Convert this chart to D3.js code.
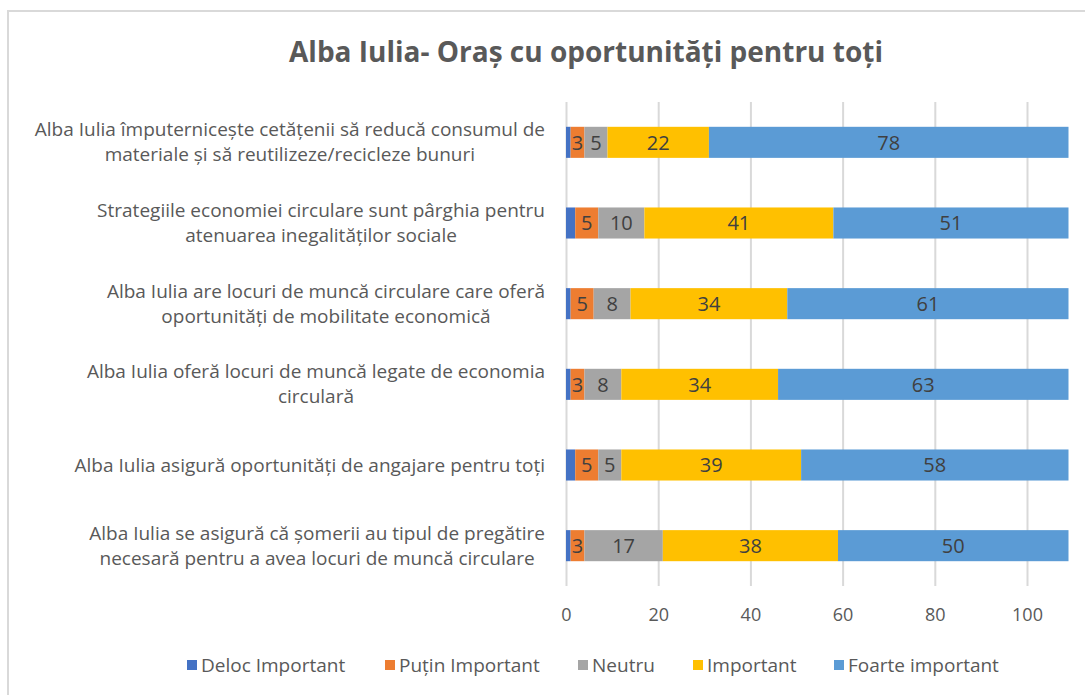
<!DOCTYPE html>
<html>
<head>
<meta charset="utf-8">
<script src="https://cdn.jsdelivr.net/npm/d3@7"></script>
<style>
  body { margin: 0; background: #fff; }
  text { font-family: "Open Sans", sans-serif; }
</style>
</head>
<body>
<div id="chart"></div>
<script>
// categories, top to bottom (line breaks as in the original labels)
const categories = [
  "Alba Iulia împuternicește cetățenii să reducă consumul de\nmateriale și să reutilizeze/recicleze bunuri",
  "Strategiile economiei circulare sunt pârghia pentru\natenuarea inegalităților sociale",
  "Alba Iulia are locuri de muncă circulare care oferă\noportunități de mobilitate economică",
  "Alba Iulia oferă locuri de muncă legate de economia\ncirculară",
  "Alba Iulia asigură oportunități de angajare pentru toți",
  "Alba Iulia se asigură că șomerii au tipul de pregătire\nnecesară pentru a avea locuri de muncă circulare"
];
const seriesNames = ["Deloc Important", "Puțin Important", "Neutru", "Important", "Foarte important"];
const delocImportant = [1, 2, 1, 1, 2, 1];
const putinImportant = [3, 5, 5, 3, 5, 3];
const neutru = [5, 10, 8, 8, 5, 17];
const important = [22, 41, 34, 34, 39, 38];
const foarteImportant = [78, 51, 61, 63, 58, 50];
const tickValues = [0, 20, 40, 60, 80, 100];
const colors = ["#4472C4", "#ED7D31", "#A5A5A5", "#FFC000", "#5B9BD5"];
const showLabel = [false, true, true, true, true];

(() => {
  const width = 1085, height = 695;
  const margin = { left: 566, right: 16.5, top: 102, bottom: 109 };

  const svg = d3.select("#chart").append("svg")
    .attr("width", width).attr("height", height);

  svg.append("rect").attr("width", width).attr("height", height).attr("fill", "#fff");

  // chart frame (only top and left edge visible)
  svg.append("path")
    .attr("d", "M8,695 V11 H1085")
    .attr("fill", "none").attr("stroke", "#D9D9D9").attr("stroke-width", 2);

  // title
  svg.append("text")
    .attr("x", 586).attr("y", 62)
    .attr("text-anchor", "middle")
    .attr("font-size", "28px").attr("font-weight", "bold")
    .attr("fill", "#595959")
    .text("Alba Iulia- Oraș cu oportunități pentru toți");

  const rows = categories.map((c, i) => ({
    cat: c,
    values: [delocImportant[i], putinImportant[i], neutru[i], important[i], foarteImportant[i]]
  }));
  const stack = d3.stack().keys(d3.range(5)).value((d, k) => d.values[k]);
  const series = stack(rows);

  const x = d3.scaleLinear().domain([0, 109]).range([margin.left, width - margin.right]);
  const y = d3.scaleBand().domain(categories)
    .range([margin.top, height - margin.bottom])
    .paddingInner(0.615).paddingOuter(0.3075);

  // gridlines + tick labels
  const axis = svg.append("g")
    .attr("transform", `translate(0,${height - margin.bottom})`)
    .call(d3.axisBottom(x).tickValues(tickValues)
      .tickSize(-(height - margin.bottom - margin.top)).tickPadding(22));
  axis.select(".domain").remove();
  axis.selectAll(".tick line").attr("stroke", "#D9D9D9").attr("stroke-width", 2);
  axis.selectAll(".tick text")
    .attr("fill", "#595959").attr("font-size", "18px")
    .style("font-family", "'Open Sans', sans-serif");

  // bars
  const layers = svg.append("g").selectAll("g")
    .data(series).enter().append("g")
    .attr("fill", (d, i) => colors[i]);

  layers.selectAll("rect")
    .data((d) => d)
    .enter().append("rect")
    .attr("x", (d) => x(d[0]))
    .attr("width", (d) => x(d[1]) - x(d[0]))
    .attr("y", (d) => y(d.data.cat))
    .attr("height", y.bandwidth());

  // data labels
  layers.filter((d, i) => showLabel[i])
    .selectAll("text")
    .data((d) => d.map((p) => ({ p: p, v: p[1] - p[0] })))
    .enter().append("text")
    .attr("x", (d) => (x(d.p[0]) + x(d.p[1])) / 2)
    .attr("y", (d) => y(d.p.data.cat) + y.bandwidth() / 2)
    .attr("dy", "0.36em")
    .attr("text-anchor", "middle")
    .attr("font-size", "20px")
    .attr("fill", "#404040")
    .text((d) => d.v);

  // category labels: lines centered within a right-aligned block
  const labelRight = 545, lineH = 25;
  categories.forEach((c) => {
    const lines = c.split("\n");
    const g = svg.append("g");
    const texts = lines.map((l, j) =>
      g.append("text")
        .attr("y", y(c) + y.bandwidth() / 2 + (j - (lines.length - 1) / 2) * lineH)
        .attr("dy", "0.35em")
        .attr("font-size", "19px")
        .attr("fill", "#595959")
        .attr("text-anchor", "middle")
        .text(l));
    const maxW = d3.max(texts, (t) => t.node().getComputedTextLength());
    texts.forEach((t) => t.attr("x", labelRight - maxW / 2));
  });

  // legend
  const legendX = [187, 385, 578, 693, 834];
  const legend = svg.append("g").attr("transform", "translate(0,665)");
  seriesNames.forEach((s, i) => {
    legend.append("rect")
      .attr("x", legendX[i]).attr("y", -5)
      .attr("width", 10).attr("height", 10)
      .attr("fill", colors[i]);
    legend.append("text")
      .attr("x", legendX[i] + 14).attr("y", 0)
      .attr("dy", "0.35em")
      .attr("font-size", "19px")
      .attr("fill", "#595959")
      .text(s);
  });
})();
</script>
</body>
</html>
